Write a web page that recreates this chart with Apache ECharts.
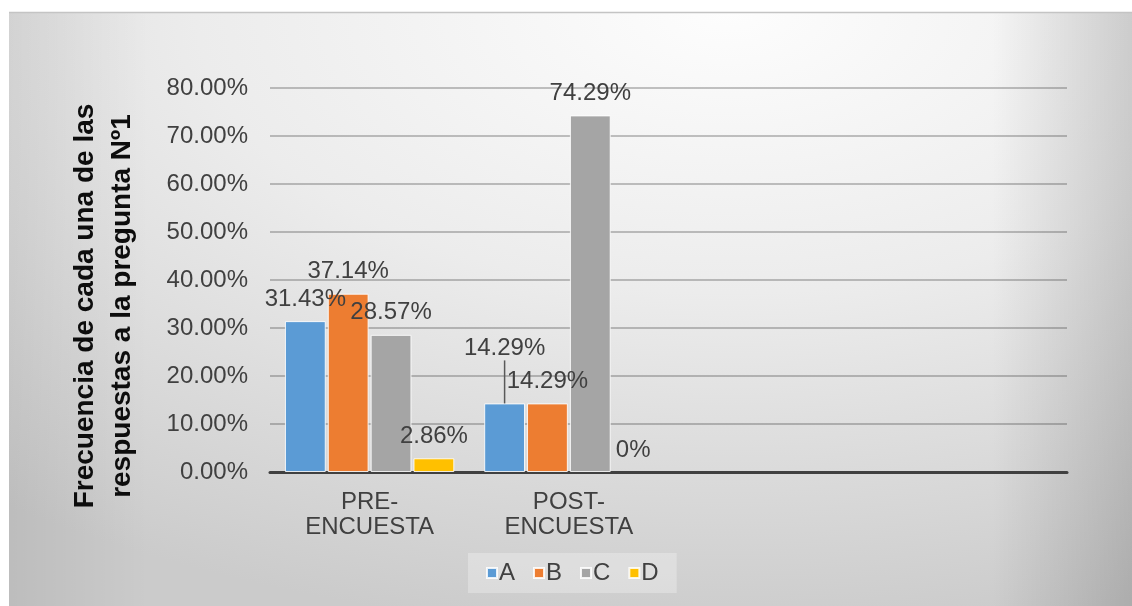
<!DOCTYPE html>
<html>
<head>
<meta charset="utf-8">
<script src="https://cdn.jsdelivr.net/npm/echarts@6/dist/echarts.min.js"></script>
<style>
  html, body { margin: 0; padding: 0; background: #ffffff; }
  #chart { width: 1132px; height: 606px; }
</style>
</head>
<body>
<div id="chart"></div>
<script>
// Categories on the x axis (two trailing empty slots keep the plot width)
const categories = ['PRE-\nENCUESTA', 'POST-\nENCUESTA', '', ''];
const seriesNames = ['A', 'B', 'C', 'D'];
// Percent of answers per option
const valuesA = [31.43, 14.29, null, null];
const valuesB = [37.14, 14.29, null, null];
const valuesC = [28.57, 74.29, null, null];
const valuesD = [2.86, 0, null, null];
const yMin = 0, yMax = 80, yStep = 10;
const axisTitle = 'Frecuencia de cada una de las\nrespuestas a la pregunta Nº1';

const colors = ['#5b9bd5', '#ed7d31', '#a5a5a5', '#ffc000'];
const FONT = '"Liberation Sans", Arial, sans-serif';
const TEXT = '#404040';
const FS = 24;

const chart = echarts.init(document.getElementById('chart'), null, { renderer: 'canvas' });

function pct(v) {
  return v === 0 ? '0%' : v.toFixed(2) + '%';
}

function makeSeries(name, values, idx) {
  const data = values.map(function (v) {
    if (v === 0) return { value: v, itemStyle: { borderWidth: 0 } };
    return v;
  });
  return {
    name: name,
    type: 'bar',
    data: data,
    barGap: '5%',
    barCategoryGap: '15%',
    itemStyle: { color: colors[idx], borderColor: 'rgba(255,255,255,0.85)', borderWidth: 1 },
    label: {
      show: true,
      position: 'top',
      distance: 10,
      fontFamily: FONT,
      fontSize: FS,
      color: TEXT,
      formatter: function (p) { return p.value == null ? '' : pct(p.value); }
    },
    labelLine: { show: false },
    emphasis: { disabled: true }
  };
}

const series = [
  makeSeries(seriesNames[0], valuesA, 0),
  makeSeries(seriesNames[1], valuesB, 1),
  makeSeries(seriesNames[2], valuesC, 2),
  makeSeries(seriesNames[3], valuesD, 3)
];
// The POST label of A sits higher, tied to its bar by a leader line
series[0].data[1] = {
  value: valuesA[1],
  labelLine: { show: true, lineStyle: { color: '#595959', width: 1.5 } }
};
series[0].labelLayout = function (params) {
  if (params.dataIndex === 1) return { dy: -33 };
  return {};
};

const bgRadial = new echarts.graphic.RadialGradient(0.64, 0.0, 1.05, [
  { offset: 0, color: '#fdfdfd' },
  { offset: 0.45, color: '#ececec' },
  { offset: 1, color: '#cbcbcb' }
]);
const leftShade = new echarts.graphic.LinearGradient(0, 0, 1, 0, [
  { offset: 0, color: 'rgba(0,0,0,0.07)' },
  { offset: 1, color: 'rgba(0,0,0,0)' }
]);
const rightShade = new echarts.graphic.LinearGradient(0, 0, 1, 0, [
  { offset: 0, color: 'rgba(0,0,0,0)' },
  { offset: 1, color: 'rgba(0,0,0,0.15)' }
]);

const option = {
  animation: false,
  backgroundColor: '#ffffff',
  color: colors,
  graphic: [
    {
      type: 'rect', z: -100, silent: true,
      x: 9, y: 12, scaleX: 1123 / 594,
      shape: { x: 0, y: 0, width: 594, height: 594 },
      style: { fill: bgRadial }
    },
    {
      type: 'rect', z: -99, silent: true,
      shape: { x: 9, y: 12, width: 140, height: 594 },
      style: { fill: leftShade }
    },
    {
      type: 'rect', z: -99, silent: true,
      shape: { x: 992, y: 12, width: 140, height: 594 },
      style: { fill: rightShade }
    },
    {
      type: 'line', z: -98, silent: true,
      shape: { x1: 9, y1: 12.5, x2: 1132, y2: 12.5 },
      style: { stroke: '#c4c4c4', lineWidth: 1.5 }
    },
    {
      type: 'text', z: 10, silent: true,
      x: 104, y: 306, rotation: Math.PI / 2,
      style: {
        text: axisTitle,
        fontFamily: FONT,
        fontSize: 28,
        fontWeight: 'bold',
        lineHeight: 37,
        fill: '#0d0d0d',
        align: 'center',
        verticalAlign: 'middle'
      }
    }
  ],
  grid: { left: 270, right: 65, top: 88, bottom: 134, containLabel: false },
  legend: {
    data: seriesNames,
    left: 468,
    top: 553,
    padding: [8, 18],
    backgroundColor: 'rgba(255,255,255,0.28)',
    icon: 'rect',
    itemWidth: 10,
    itemHeight: 10,
    itemGap: 18,
    selectedMode: false,
    textStyle: { fontFamily: FONT, fontSize: FS, color: TEXT, padding: [0, 0, 0, -3] }
  },
  xAxis: {
    type: 'category',
    data: categories,
    axisLine: { show: true, lineStyle: { color: '#404040', width: 3 } },
    axisTick: { show: false },
    axisLabel: {
      interval: 0,
      margin: 18,
      fontFamily: FONT,
      fontSize: FS,
      lineHeight: 25,
      color: TEXT
    },
    splitLine: { show: false }
  },
  yAxis: {
    type: 'value',
    min: yMin,
    max: yMax,
    interval: yStep,
    axisLine: { show: false },
    axisTick: { show: false },
    axisLabel: {
      margin: 22,
      fontFamily: FONT,
      fontSize: FS,
      color: TEXT,
      formatter: function (v) { return v.toFixed(2) + '%'; }
    },
    splitLine: { show: true, lineStyle: { color: 'rgba(60,60,60,0.3)', width: 2 } }
  },
  series: series
};

chart.setOption(option);
</script>
</body>
</html>
